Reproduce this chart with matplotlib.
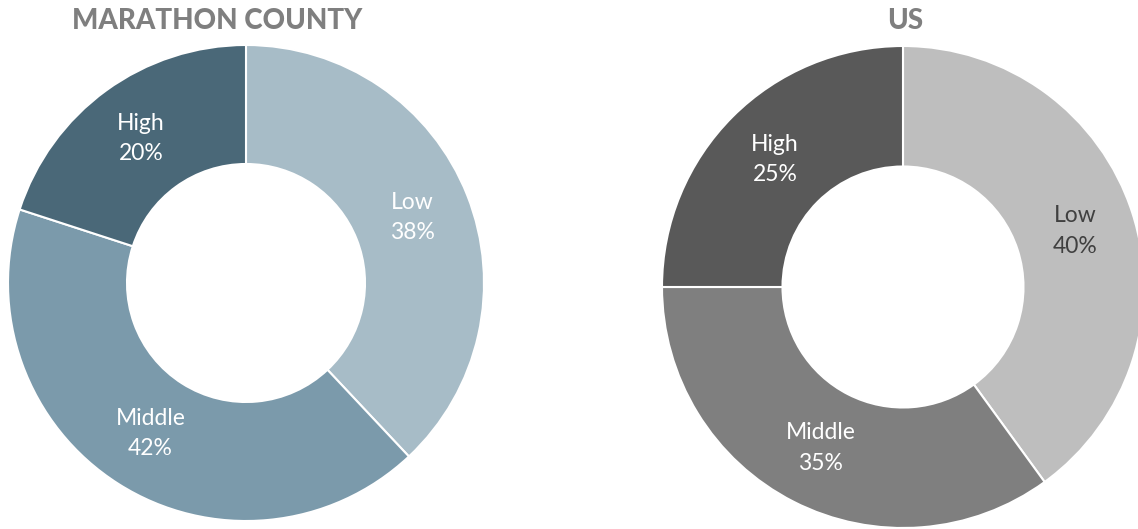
import matplotlib.pyplot as plt

plt.rc('font', family='Lato')

categories = ['Low', 'Middle', 'High']
county_pct = [38, 42, 20]
us_pct = [40, 35, 25]

county_colors = ['#a7bcc7', '#7b9aab', '#4a6878']
us_colors = ['#bebebe', '#7f7f7f', '#595959']
county_text = ['white', 'white', 'white']
us_text = ['#404040', 'white', 'white']

W, H = 1138, 529
fig = plt.figure(figsize=(W / 100, H / 100), dpi=100)
ax = fig.add_axes([0, 0, 1, 1])


def donut(vals, colors, txt_colors, center, radius):
    labels = [f'{c}\n{v}%' for c, v in zip(categories, vals)]
    wedges, texts = ax.pie(
        vals, colors=colors, startangle=90, counterclock=False,
        center=center, radius=radius, labels=labels, labeldistance=0.75,
        wedgeprops=dict(width=radius * 0.5, edgecolor='white', linewidth=1.5),
        textprops=dict(fontsize=16.5, fontweight='normal', linespacing=1.55),
        frame=True,
    )
    for t, c in zip(texts, txt_colors):
        t.set_color(c)
        t.set_horizontalalignment('center')
        t.set_verticalalignment('center')


donut(county_pct, county_colors, county_text, (246, H - 283), 238)
donut(us_pct, us_colors, us_text, (903, H - 287), 241)
ax.set_xlim(0, W)
ax.set_ylim(0, H)
ax.set_aspect('equal')
ax.axis('off')

ax.text(217, H - 21, 'MARATHON COUNTY', ha='center', va='center',
        fontsize=20, fontweight='black', color='#7f7f7f')
ax.text(905, H - 21, 'US', ha='center', va='center',
        fontsize=20, fontweight='black', color='#7f7f7f')

plt.savefig('out.png', dpi=100)
